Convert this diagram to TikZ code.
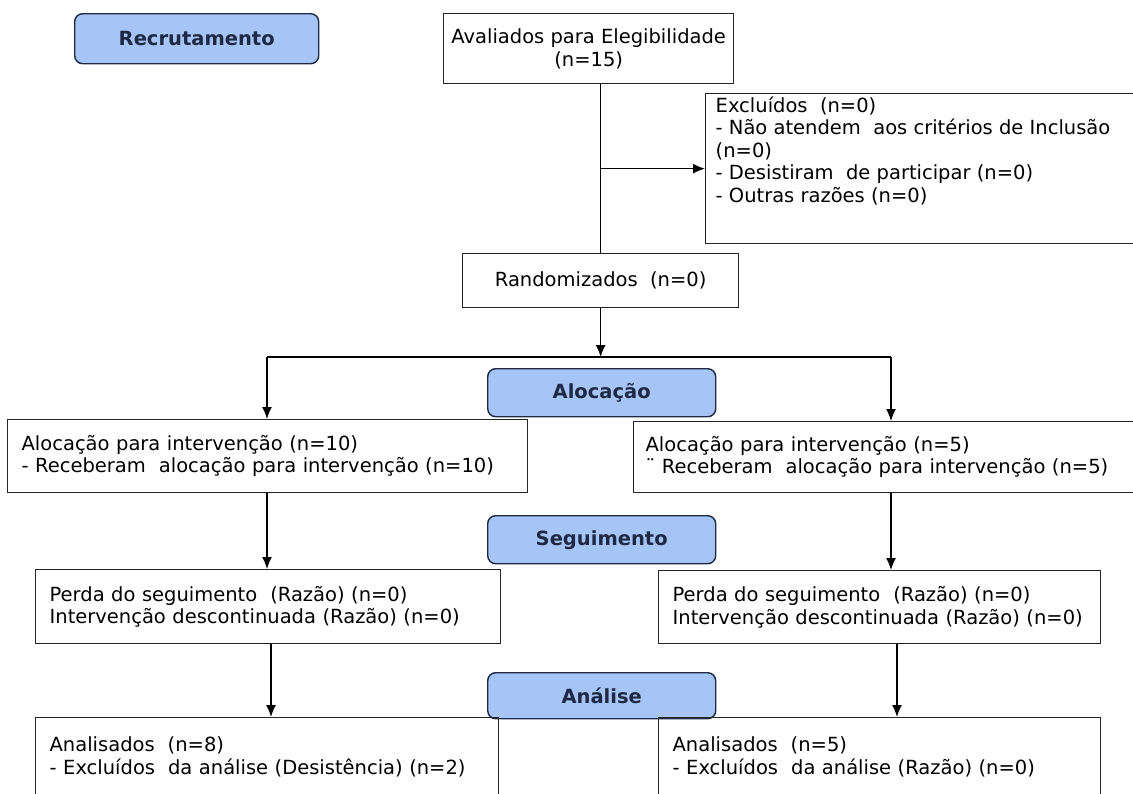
\documentclass[tikz,border=0pt]{standalone}
\usepackage{fontspec}
\setmainfont{DejaVu Sans}
\usetikzlibrary{arrows.meta}
\tikzset{>={Latex[length=12pt,width=10pt]}}
\usetikzlibrary{positioning}
\definecolor{azulfase}{HTML}{A6C4F5}
\definecolor{bordafase}{HTML}{1E2A45}

\begin{document}
\begin{tikzpicture}[x=1pt, y=-1pt, line width=1.4pt]
\tikzset{every node/.style={anchor=north west, inner ysep=0pt, inner xsep=14pt, font=\fontsize{19.5}{22.5}\selectfont},
caixa/.style={rectangle, draw=black!85, line width=1.3pt, align=left},
fase/.style={rectangle, draw=bordafase, fill=azulfase, rounded corners=8pt, minimum width=228pt, minimum height=48pt, text=bordafase, font=\fontsize{19.5}{22}\selectfont\bfseries}}
\clip (0,0) rectangle (1133,793);
% cabecalhos das fases
\node[fase, minimum width=244pt, minimum height=50pt] (recr) at (74,13) {Recrutamento};
\node[fase] (aloc) at (487,368) {Alocação};
\node[fase] (segu) at (487,515) {Seguimento};
\node[fase, minimum height=46pt] (anal) at (487,672) {Análise};
% caixas
\node[caixa, align=center, inner xsep=4pt, minimum width=290pt, minimum height=70pt] (aval) at (443,13) {Avaliados para Elegibilidade\\(n=15)};
\node[caixa, minimum width=460pt, minimum height=150pt] (excl) at (705,93) {};
\node[below right=3pt and -4pt of excl.north west, align=left] (excltxt) {Excluídos~~(n=0)\\- Não atendem~ aos critérios de Inclusão\\(n=0)\\- Desistiram~ de participar (n=0)\\- Outras razões (n=0)};
\node[caixa, align=center, minimum width=276pt, minimum height=54pt] (rand) at (462,253) {Randomizados~~(n=0)};
\node[caixa, text width=492pt, minimum height=73pt] (aesq) at (7,419) {Alocação para intervenção (n=10)\\- Receberam~ alocação para intervenção (n=10)};
\node[caixa, text width=502pt, minimum height=71pt, inner xsep=12pt] (adir) at (633,421) {Alocação para intervenção (n=5)\\¨ Receberam~ alocação para intervenção (n=5)};
\node[caixa, text width=437pt, minimum height=74pt] (sesq) at (35,569) {Perda do seguimento~ (Razão) (n=0)\\Intervenção descontinuada (Razão) (n=0)};
\node[caixa, text width=414pt, minimum height=73pt] (sdir) at (658,570) {Perda do seguimento~ (Razão) (n=0)\\Intervenção descontinuada (Razão) (n=0)};
\node[caixa, text width=435pt, minimum height=78pt] (nesq) at (35,717) {Analisados~~(n=8)\\- Excluídos~ da análise (Desistência) (n=2)};
\node[caixa, text width=414pt, minimum height=78pt] (ndir) at (658,717) {Analisados~~(n=5)\\- Excluídos~ da análise (Razão) (n=0)};
% ligacoes
\coordinate (ramoE) at (267,357);
\coordinate (ramoD) at (891,357);
\draw (rand.north |- aval.south) -- (rand.north);
\draw[->] (rand.north |- excl.west) -- (excl.west);
\draw[->] (rand.south) -- (rand.south |- ramoE);
\draw (ramoE) -- (ramoD);
\draw[->] (ramoE) -- (ramoE |- aesq.north);
\draw[->] (ramoD) -- (ramoD |- adir.north);
\draw[->] (ramoE |- aesq.south) -- (ramoE |- sesq.north);
\draw[->] (ramoD |- adir.south) -- (ramoD |- sdir.north);
\draw[->] ([xshift=4pt]ramoE |- sesq.south) -- ([xshift=4pt]ramoE |- nesq.north);
\draw[->] ([xshift=6pt]ramoD |- sdir.south) -- ([xshift=6pt]ramoD |- ndir.north);
\end{tikzpicture}
\end{document}
